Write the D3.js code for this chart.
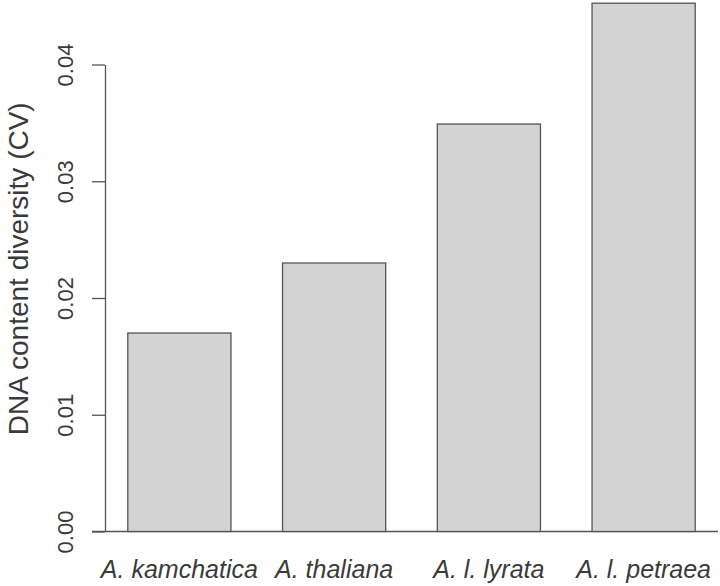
<!DOCTYPE html>
<html>
<head>
<meta charset="utf-8">
<script src="https://cdn.jsdelivr.net/npm/d3@7"></script>
<style>
  html, body { margin: 0; padding: 0; background: #fff; }
  svg { display: block; }
</style>
</head>
<body>
<svg id="chart" width="720" height="586"></svg>
<script>
// species + CV values
const species = ['A. kamchatica', 'A. thaliana', 'A. l. lyrata', 'A. l. petraea'];
const cvValues = [0.0170, 0.0230, 0.0349, 0.04525];
const yTicks = [0, 0.01, 0.02, 0.03, 0.04];
const yTickLabels = ['0.00', '0.01', '0.02', '0.03', '0.04'];

const W = 720, H = 586;
const FONT = '"Liberation Sans", Arial, sans-serif';
const INK = '#3a3a3a';
const LINE = '#555';

const svg = d3.select('#chart');

const x = d3.scaleBand()
  .domain(species)
  .range([102, 721])
  .paddingInner(1 / 3)
  .paddingOuter(1 / 6);

const y = d3.scaleLinear()
  .domain([0, 0.04])
  .range([531.5, 64.5]);

// baseline
svg.append('line')
  .attr('x1', 92).attr('x2', 718)
  .attr('y1', y(0)).attr('y2', y(0))
  .attr('stroke', LINE).attr('stroke-width', 1.3);

// bars
svg.append('g')
  .selectAll('rect')
  .data(species)
  .join('rect')
  .attr('x', d => x(d))
  .attr('width', x.bandwidth())
  .attr('y', (d, i) => y(cvValues[i]))
  .attr('height', (d, i) => y(0) - y(cvValues[i]))
  .attr('fill', '#d3d3d3')
  .attr('stroke', LINE)
  .attr('stroke-width', 1.3);

// y axis (R style: line spans first to last tick)
const yAxis = d3.axisLeft(y)
  .tickValues(yTicks)
  .tickFormat((d, i) => yTickLabels[i])
  .tickSize(13)
  .tickSizeOuter(0);

const ga = svg.append('g')
  .attr('transform', 'translate(105,0)')
  .call(yAxis);

ga.select('.domain').attr('stroke', LINE).attr('stroke-width', 1.3);
ga.selectAll('.tick line').attr('stroke', LINE).attr('stroke-width', 1.3);
ga.selectAll('.tick text')
  .attr('font-family', FONT)
  .attr('font-size', 22)
  .attr('fill', INK)
  .attr('text-anchor', 'middle')
  .attr('dy', null)
  .attr('x', null)
  .attr('transform', 'translate(-40,0) rotate(-90)')
  .attr('y', 0)
  .attr('dominant-baseline', 'central');

// x category labels
svg.append('g')
  .selectAll('text')
  .data(species)
  .join('text')
  .attr('x', d => x(d) + x.bandwidth() / 2)
  .attr('y', 578)
  .attr('text-anchor', 'middle')
  .attr('font-family', FONT)
  .attr('font-style', 'italic')
  .attr('font-size', 25)
  .attr('fill', INK)
  .text(d => d);

// y title
svg.append('text')
  .attr('transform', `translate(28,${y(0.0225)}) rotate(-90)`)
  .attr('text-anchor', 'middle')
  .attr('font-family', FONT)
  .attr('font-size', 28)
  .attr('fill', INK)
  .text('DNA content diversity (CV)');
</script>
</body>
</html>
